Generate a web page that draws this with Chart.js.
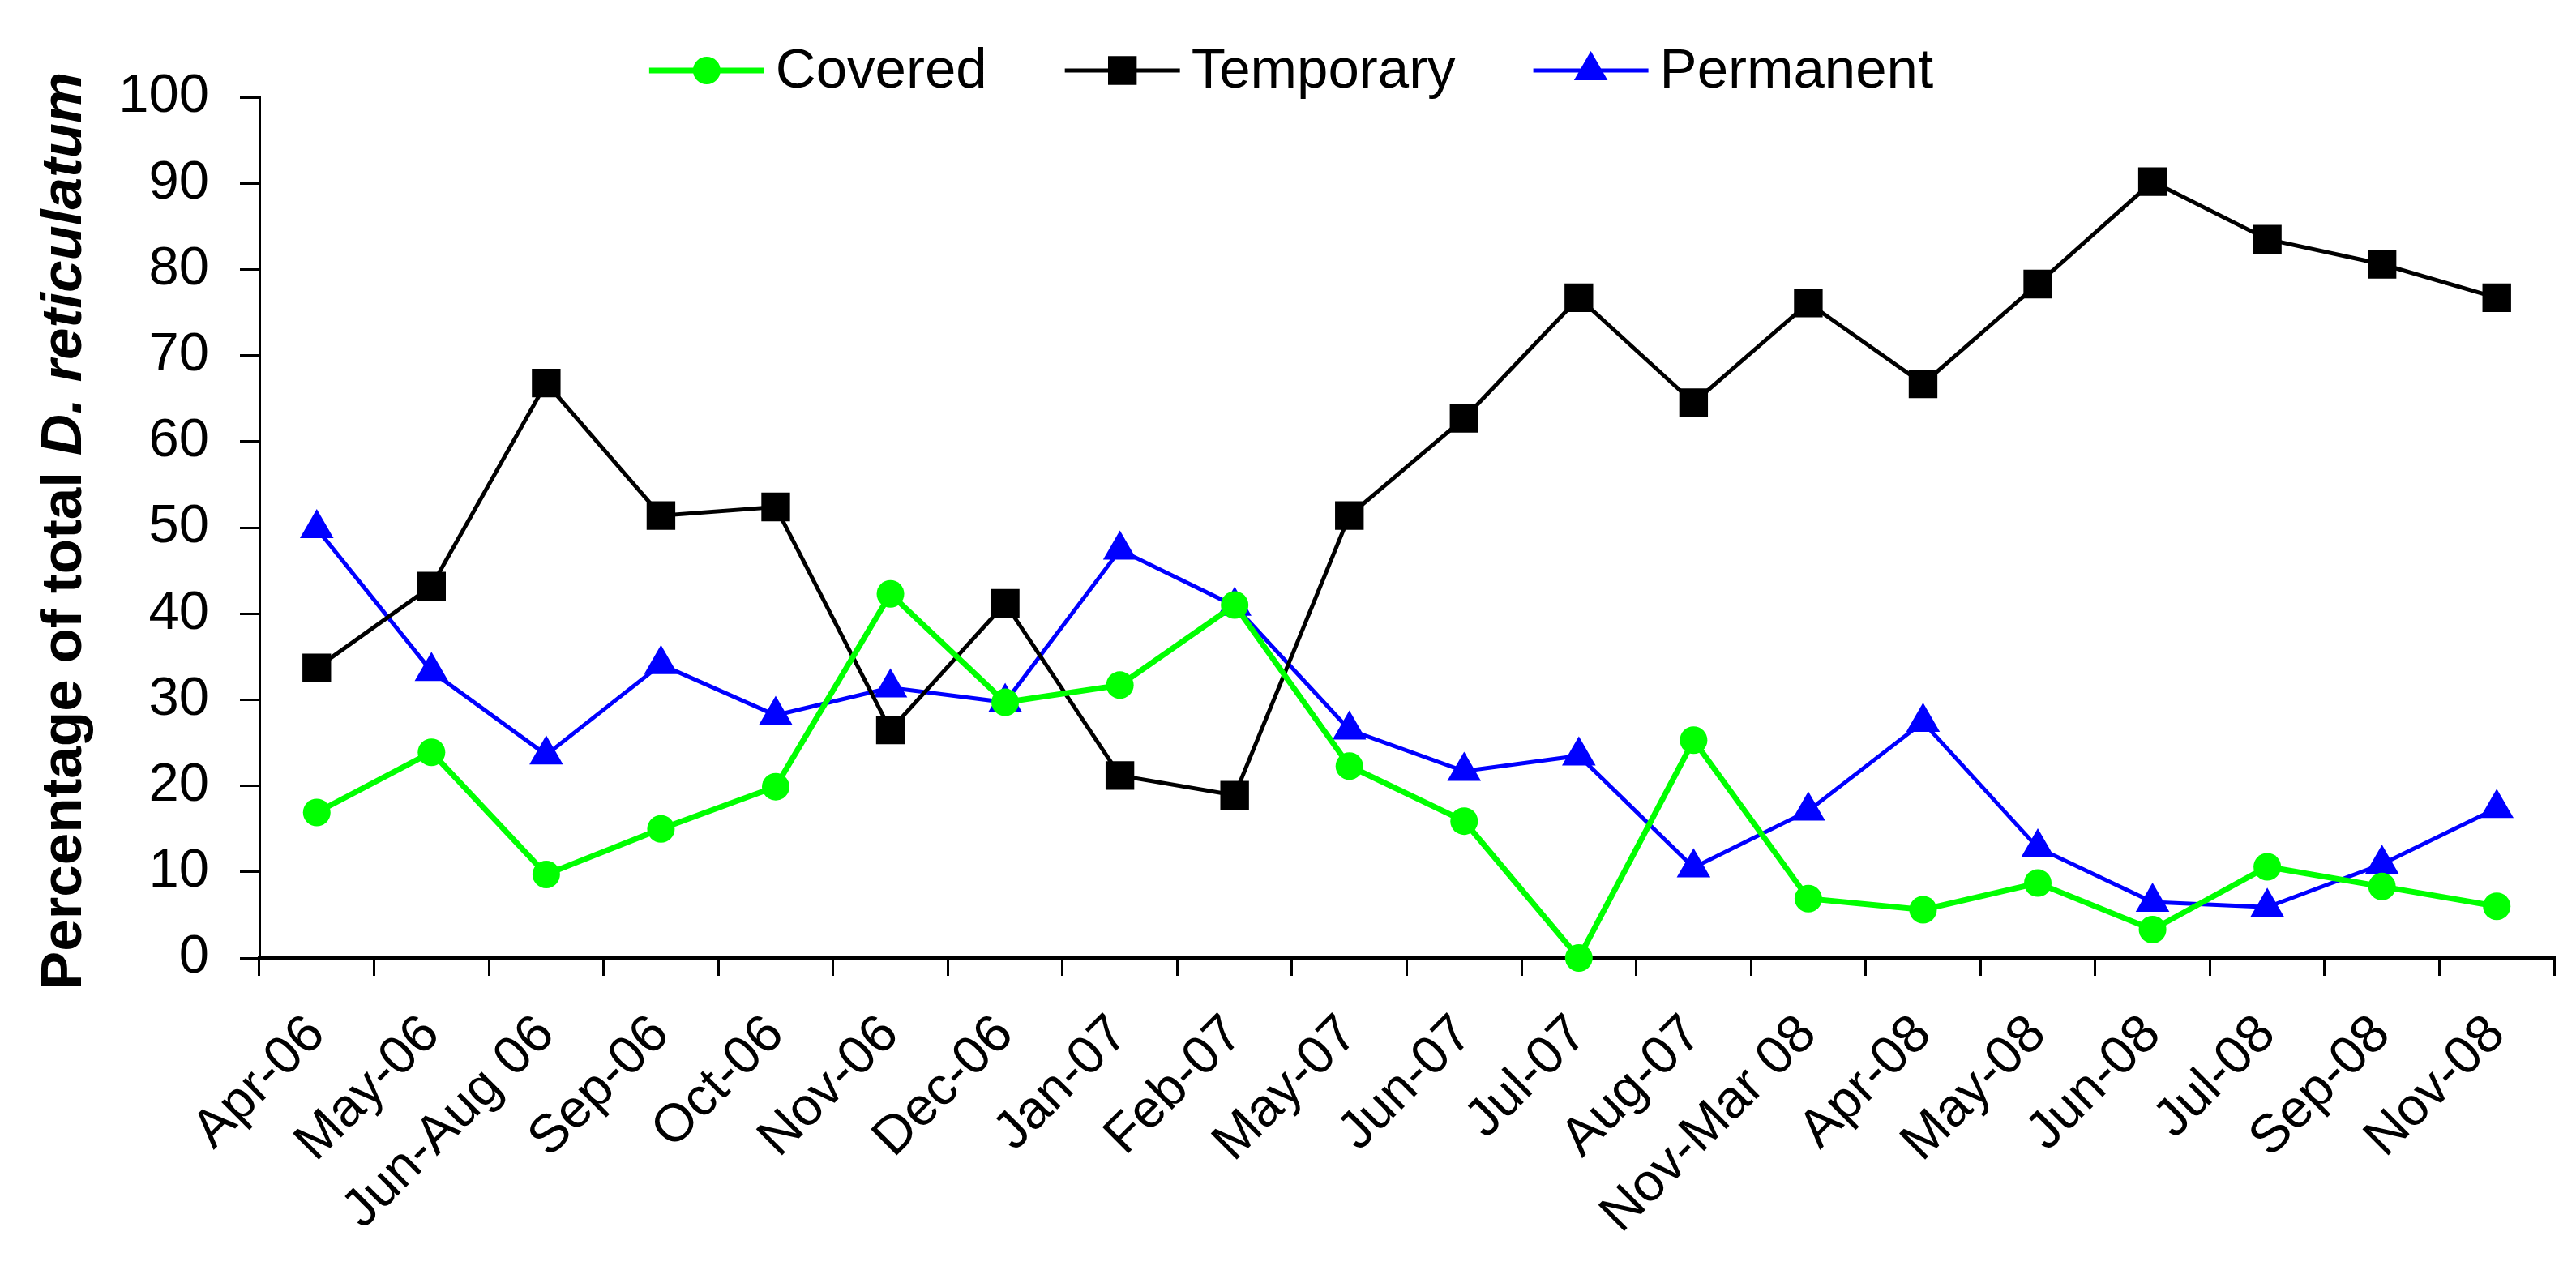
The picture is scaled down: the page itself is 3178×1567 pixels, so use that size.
<!DOCTYPE html>
<html>
<head>
<meta charset="utf-8">
<script src="https://cdn.jsdelivr.net/npm/chart.js@4/dist/chart.umd.min.js"></script>
<style>
  html, body { margin: 0; padding: 0; background: #fff; }
  #wrap { width: 3178px; height: 1567px; }
</style>
</head>
<body>
<div id="wrap"><canvas id="chart" width="3178" height="1567"></canvas></div>
<script>
// survey periods
const periods = ['Apr-06','May-06','Jun-Aug 06','Sep-06','Oct-06','Nov-06','Dec-06','Jan-07','Feb-07',
  'May-07','Jun-07','Jul-07','Aug-07','Nov-Mar 08','Apr-08','May-08','Jun-08','Jul-08','Sep-08','Nov-08'];

// % of total D. reticulatum per habitat
const covered   = [16.9, 23.9, 9.7, 15.0, 19.9, 42.3, 29.7, 31.7, 41.0, 22.3, 15.9, 0.0, 25.3, 6.9, 5.6, 8.7, 3.3, 10.6, 8.3, 6.0];
const temporary = [33.7, 43.2, 66.8, 51.4, 52.4, 26.5, 41.2, 21.2, 18.9, 51.4, 62.7, 76.7, 64.5, 76.1, 66.7, 78.3, 90.2, 83.5, 80.6, 76.7];
const permanent = [49.9, 33.3, 23.6, 34.1, 28.2, 31.4, 29.7, 47.4, 40.9, 26.5, 21.7, 23.5, 10.5, 17.1, 27.4, 12.8, 6.5, 5.9, 10.9, 17.4];

const FONT = '"Liberation Sans", Arial, sans-serif';

// y title: bold, with the species name in bold italic
const yTitle = {
  id: 'yTitle',
  afterDraw(chart) {
    const { ctx, chartArea } = chart;
    const a = 'Percentage of total ', b = 'D. reticulatum';
    ctx.save();
    ctx.translate(100, (chartArea.top + chartArea.bottom) / 2 + 4);
    ctx.rotate(-Math.PI / 2);
    ctx.fillStyle = '#000';
    ctx.textBaseline = 'alphabetic';
    ctx.textAlign = 'left';
    ctx.font = 'bold 71px ' + FONT;
    const wa = ctx.measureText(a).width;
    ctx.font = 'italic bold 71px ' + FONT;
    const wb = ctx.measureText(b).width;
    const x = -(wa + wb) / 2;
    ctx.font = 'bold 71px ' + FONT;
    ctx.fillText(a, x, 0);
    ctx.font = 'italic bold 71px ' + FONT;
    ctx.fillText(b, x + wa, 0);
    ctx.restore();
  }
};

// legend: line with marker, then label
function drawMarker(ctx, style, x, y, r, color) {
  ctx.fillStyle = color;
  ctx.beginPath();
  if (style === 'circle') {
    ctx.arc(x, y, r, 0, Math.PI * 2);
  } else if (style === 'rect') {
    const s = r * Math.SQRT1_2;
    ctx.rect(x - s, y - s, 2 * s, 2 * s);
  } else {
    ctx.moveTo(x, y - r);
    ctx.lineTo(x + r * Math.sin(Math.PI * 2 / 3), y - r * Math.cos(Math.PI * 2 / 3));
    ctx.lineTo(x - r * Math.sin(Math.PI * 2 / 3), y - r * Math.cos(Math.PI * 2 / 3));
    ctx.closePath();
  }
  ctx.fill();
}

const lineLegend = {
  id: 'lineLegend',
  afterDraw(chart) {
    const { ctx } = chart;
    const lineLen = 142, gapText = 14, gapItem = 96, cy = 87, cx = 1593;
    ctx.save();
    ctx.font = '69px ' + FONT;
    const items = chart.data.datasets.map(ds => ({ ds, w: ctx.measureText(ds.label).width }));
    const total = items.reduce((s, it) => s + lineLen + gapText + it.w, 0) + gapItem * (items.length - 1);
    let x = cx - total / 2;
    items.forEach(({ ds, w }) => {
      ctx.strokeStyle = ds.borderColor;
      ctx.lineWidth = ds.borderWidth;
      ctx.beginPath();
      ctx.moveTo(x, cy);
      ctx.lineTo(x + lineLen, cy);
      ctx.stroke();
      drawMarker(ctx, ds.pointStyle, x + lineLen / 2, cy, ds.pointRadius, ds.borderColor);
      ctx.fillStyle = '#000';
      ctx.textAlign = 'left';
      ctx.textBaseline = 'middle';
      ctx.fillText(ds.label, x + lineLen + gapText, cy + 2);
      x += lineLen + gapText + w + gapItem;
    });
    ctx.restore();
  }
};

new Chart(document.getElementById('chart'), {
  type: 'line',
  data: {
    labels: periods,
    datasets: [
      { label: 'Covered', data: covered, borderColor: '#00ff00', backgroundColor: '#00ff00',
        borderWidth: 7, pointStyle: 'circle', pointRadius: 17, pointBorderWidth: 0, clip: false },
      { label: 'Temporary', data: temporary, borderColor: '#000000', backgroundColor: '#000000',
        borderWidth: 5, pointStyle: 'rect', pointRadius: 25, pointBorderWidth: 0, clip: false },
      { label: 'Permanent', data: permanent, borderColor: '#0000ff', backgroundColor: '#0000ff',
        borderWidth: 5, pointStyle: 'triangle', pointRadius: 24, pointBorderWidth: 0, clip: false }
    ]
  },
  options: {
    responsive: false,
    animation: false,
    devicePixelRatio: 1,
    layout: { padding: { top: 120, right: 27, bottom: 0, left: 0 } },
    plugins: { legend: { display: false }, tooltip: { enabled: false } },
    elements: { line: { tension: 0 } },
    scales: {
      x: {
        offset: true,
        grid: { offset: true, drawOnChartArea: false, drawTicks: true, tickLength: 22, color: '#000', lineWidth: 3 },
        border: { display: true, color: '#000', width: 4 },
        ticks: { color: '#000', font: { family: FONT, size: 66 }, minRotation: 45, maxRotation: 45, autoSkip: false, padding: 34 },
        afterFit: s => { s.height = 385; }
      },
      y: {
        min: 0, max: 100,
        grid: { drawOnChartArea: false, drawTicks: true, tickLength: 24, color: '#000', lineWidth: 3 },
        border: { display: true, color: '#000', width: 3 },
        ticks: { stepSize: 10, color: '#000', font: { family: FONT, size: 67 }, padding: 38 },
        afterFit: s => { s.width = 320; }
      }
    }
  },
  plugins: [yTitle, lineLegend]
});
</script>
</body>
</html>
